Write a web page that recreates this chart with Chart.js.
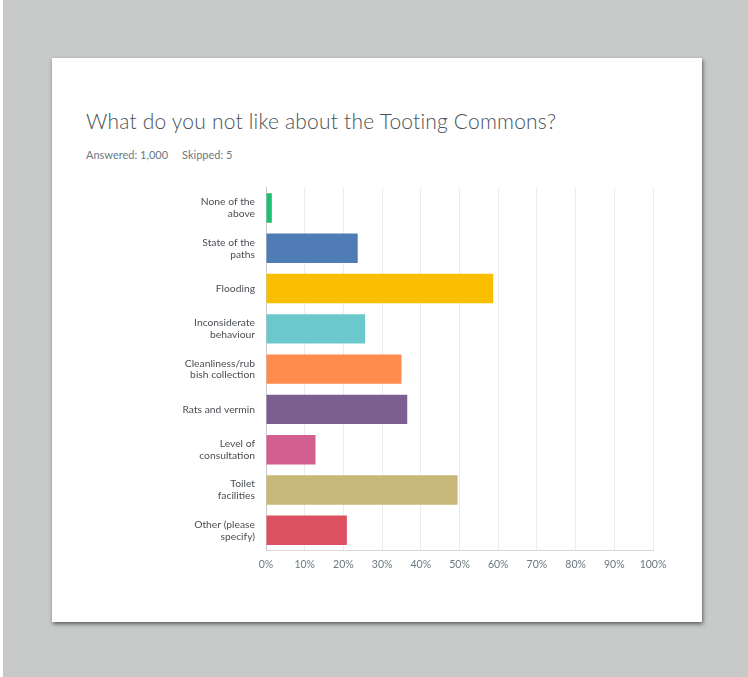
<!DOCTYPE html>
<html>
<head>
<meta charset="utf-8">
<script src="https://cdn.jsdelivr.net/npm/chart.js@4.4.0/dist/chart.umd.min.js"></script>
<style>
  html, body { margin: 0; padding: 0; }
  body {
    width: 748px; height: 677px; overflow: hidden;
    background: #c8cac9;
    border-left: 3px solid #fff;
    box-sizing: border-box;
    position: relative;
    font-family: Lato, "Open Sans", sans-serif;
  }
  .card {
    position: absolute; left: 49px; top: 58px;
    width: 650px; height: 564px;
    background: #fff;
    box-shadow: 1px 2px 4px rgba(0,0,0,0.55);
  }
  .title {
    position: absolute; left: 34px; top: 50px;
    font-size: 21px; color: #4a5258; font-weight: 300;
    letter-spacing: 0.2px;
  }
  .meta {
    position: absolute; left: 34px; top: 90px;
    font-size: 11px; color: #6b787f;
  }
  .meta span + span { margin-left: 14px; }
  .plot {
    position: absolute; left: 98px; top: 107px;
    width: 540px; height: 424px;
  }
</style>
</head>
<body>
<div class="card">
  <div class="title">What do you not like about the Tooting Commons?</div>
  <div class="meta"><span>Answered: 1,000</span><span>Skipped: 5</span></div>
  <div class="plot"><canvas id="answers"></canvas></div>
</div>
<script>
// answer choices, wrapped the way the survey tool wraps them
const choices = [
  ['None of the', 'above'],
  ['State of the', 'paths'],
  'Flooding',
  ['Inconsiderate', 'behaviour'],
  ['Cleanliness/rub', 'bish collection'],
  'Rats and vermin',
  ['Level of', 'consultation'],
  ['Toilet', 'facilities'],
  ['Other (please', 'specify)']
];
const percents = [1.5, 23.7, 58.7, 25.6, 35.0, 36.5, 12.8, 49.5, 20.9];
const barColors = ['#1dbf73', '#507cb6', '#f9be00', '#6bc8cd', '#ff8b4f',
                   '#7d5e90', '#d25f90', '#c7b879', '#dc5061'];
const xTicks = [0, 10, 20, 30, 40, 50, 60, 70, 80, 90, 100];

const ctx = document.getElementById('answers').getContext('2d');
new Chart(ctx, {
  type: 'bar',
  data: {
    labels: choices,
    datasets: [{
      data: percents,
      backgroundColor: barColors,
      borderColor: barColors,
      borderWidth: 0,
      categoryPercentage: 1,
      barPercentage: 0.73
    }]
  },
  options: {
    indexAxis: 'y',
    responsive: true,
    maintainAspectRatio: false,
    animation: false,
    layout: { padding: { top: 7, right: 37, bottom: 10, left: 0 } },
    plugins: { legend: { display: false }, tooltip: { enabled: false } },
    scales: {
      x: {
        min: 0, max: 100,
        afterBuildTicks: axis => { axis.ticks = xTicks.map(v => ({ value: v })); },
        grid: { color: '#ececec', drawTicks: false },
        border: { color: '#d9d9d9' },
        ticks: {
          padding: 8,
          color: '#6b787f',
          font: { family: 'Lato', size: 10.5 },
          callback: v => v + '%'
        }
      },
      y: {
        grid: { display: false, drawTicks: false },
        border: { color: '#c9c9c9' },
        afterFit: axis => { axis.width = 116; },
        ticks: {
          padding: 11,
          color: '#4a4f54',
          font: { family: 'Lato', size: 10.3, lineHeight: 1.15 }
        }
      }
    }
  }
});
</script>
</body>
</html>
